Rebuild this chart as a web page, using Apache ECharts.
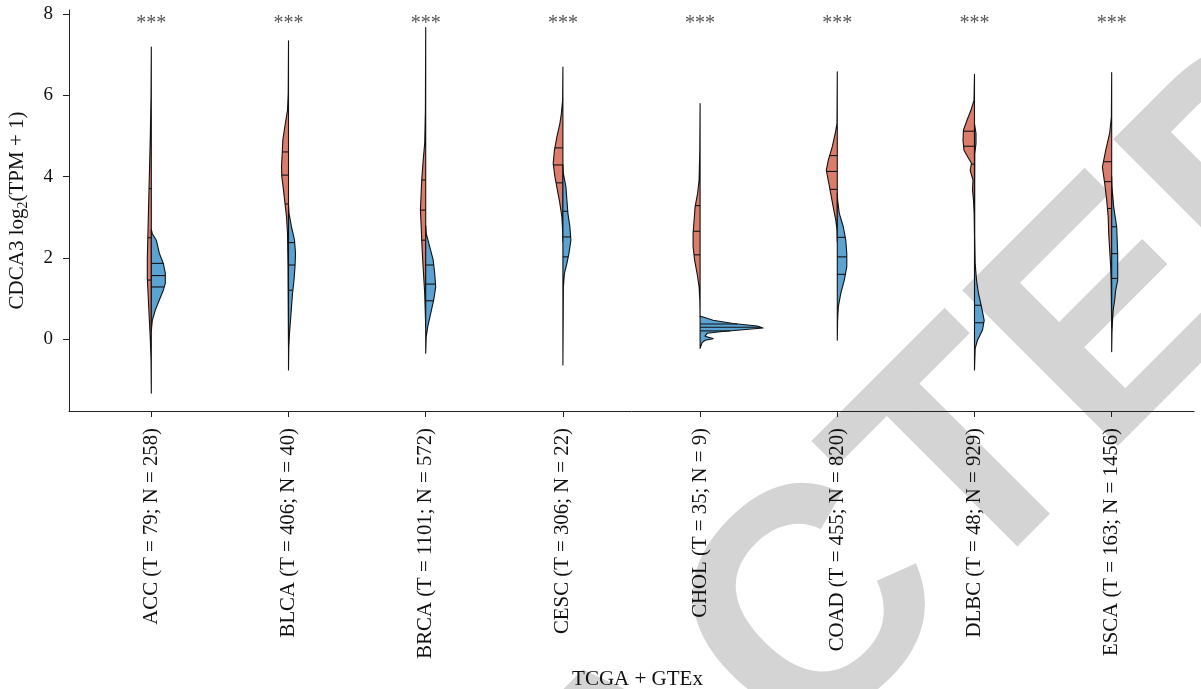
<!DOCTYPE html>
<html><head><meta charset="utf-8">
<script src="https://cdn.jsdelivr.net/npm/echarts@6/dist/echarts.min.js"></script>
<style>html,body{margin:0;padding:0;background:#fff}#c{width:1201px;height:689px}</style>
</head><body><div id="c"></div>
<script>
// ---------- data ----------
const categories = [
  'ACC (T = 79; N = 258)', 'BLCA (T = 406; N = 40)', 'BRCA (T = 1101; N = 572)',
  'CESC (T = 306; N = 22)', 'CHOL (T = 35; N = 9)', 'COAD (T = 455; N = 820)',
  'DLBC (T = 48; N = 929)', 'ESCA (T = 163; N = 1456)'
];
const significance = ['***', '***', '***', '***', '***', '***', '***', '***'];
const yTicks = [0, 2, 4, 6, 8];

// density profiles: [expression value, density (arbitrary units)]
const tumorACC  = [[-1.32,0],[-0.5,0.3],[0,1],[0.5,2],[1,3],[1.5,4],[2,4],[2.5,3.5],[3,3],[3.5,2.5],[4,2],[5,1],[6,0.3],[7.19,0]];
const normalACC = [[0.2,0],[0.47,1],[0.72,4],[0.97,8],[1.21,12],[1.38,14],[1.63,14],[1.87,12],[2.12,8],[2.44,5],[2.6,1],[2.7,0]];
const tumorBLCA  = [[-0.2,0],[0.97,0.3],[1.79,0.5],[2.6,1],[3.01,2],[3.34,3.5],[3.67,5],[4.0,6.7],[4.24,7],[4.57,6.3],[4.9,5.7],[5.23,3.7],[5.64,1],[6.05,0.3],[7.34,0]];
const normalBLCA = [[-0.75,0],[-0.18,0.3],[0.15,1],[0.47,2],[0.8,3],[1.13,4],[1.46,5.5],[1.79,6.5],[2.11,7],[2.44,6],[2.77,3],[3.1,0.5],[3.3,0]];
const tumorBRCA  = [[0.3,0],[0.56,0.3],[1.13,1],[1.54,2],[1.95,3],[2.44,4],[2.77,4.5],[3.18,5.3],[3.51,4.7],[3.92,4],[4.41,2.5],[4.82,1],[5.64,0.3],[7.67,0]];
const normalBRCA = [[-0.34,0],[0.06,0.5],[0.31,2],[0.64,5],[0.97,8],[1.29,10],[1.62,9],[1.95,7.5],[2.28,4],[2.61,0.5],[2.8,0]];
const tumorCESC  = [[2.4,0],[2.69,0.3],[3.01,1],[3.34,3],[3.67,5.5],[4.0,8],[4.33,9.7],[4.65,8.5],[4.98,6],[5.31,3],[5.56,1.5],[5.88,0.3],[6.70,0]];
const normalCESC = [[-0.63,0],[0.56,0.3],[1.29,0.5],[1.62,1.5],[1.87,4],[2.11,6],[2.44,8],[2.77,7],[3.1,5],[3.43,4],[3.75,3],[4.08,0.5],[4.3,0]];
const tumorCHOL  = [[0.56,0],[0.97,0.3],[1.29,1],[1.62,3],[1.95,5.5],[2.28,7],[2.61,7],[2.93,6],[3.26,5],[3.59,2.5],[3.92,1],[4.65,0.3],[5.80,0]];
const normalCHOL = [[-0.22,0],[-0.08,2],[-0.02,5],[0.02,13],[0.08,5],[0.15,7],[0.19,20],[0.23,40],[0.28,63],[0.33,57],[0.39,33],[0.47,13],[0.55,3],[0.57,0]];
const tumorCOAD  = [[2.4,0],[2.69,0.3],[2.93,1.5],[3.18,3.5],[3.51,6],[3.84,8.5],[4.16,11],[4.41,9],[4.74,5],[5.07,2],[5.31,0.3],[6.58,0]];
const normalCOAD = [[-0.02,0],[0.47,0.3],[0.8,1],[1.13,3.5],[1.46,7],[1.79,9.5],[2.11,9.5],[2.44,8.5],[2.77,6],[3.10,2],[3.43,0.3],[3.6,0]];
const tumorDLBC  = [[2.6,0],[3.10,0.3],[3.43,1],[3.67,2],[3.92,1.5],[4.16,4.3],[4.33,3],[4.5,7],[4.65,10.5],[4.90,11.5],[5.15,11],[5.39,7.5],[5.64,3.5],[5.88,0.5],[6.52,0]];
const normalDLBC = [[-0.75,0],[-0.22,0.7],[-0.02,3],[0.23,8],[0.47,9.7],[0.80,7],[1.13,4],[1.46,2],[1.87,0.7],[2.61,0.2],[3.84,0.2],[4.57,0.3],[4.82,1.5],[5.07,1.5],[5.3,0]];
const tumorESCA  = [[0.3,0],[0.72,0.2],[1.38,0.5],[1.79,1],[2.2,2],[2.61,3],[3.01,3.5],[3.43,5],[3.84,7],[4.24,9.3],[4.65,6],[5.07,2],[5.47,0.3],[6.56,0]];
const normalESCA = [[-0.30,0],[0.15,0.3],[0.39,0.7],[0.72,1.5],[0.97,3],[1.21,4],[1.46,6],[1.79,6],[2.11,6],[2.44,5.5],[2.77,5],[3.26,2],[3.75,0.3],[4.0,0]];

// quartiles [Q1, median, Q3]
const tumorQuartiles  = [[1.46,2.50,3.71],[3.33,4.04,4.61],[2.44,3.18,3.92],[3.85,4.29,4.71],[2.08,2.66,3.29],[3.69,4.13,4.52],[4.31,4.75,5.12],[3.22,3.88,4.37]];
const normalQuartiles = [[1.29,1.57,1.87],[1.21,1.83,2.38],[0.95,1.36,1.83],[2.03,2.52,3.15],[0.21,0.30,0.38],[1.60,2.03,2.51],[0.41,0.84,1.83],[1.50,2.11,2.77]];

const tumorDensity  = [tumorACC, tumorBLCA, tumorBRCA, tumorCESC, tumorCHOL, tumorCOAD, tumorDLBC, tumorESCA];
const normalDensity = [normalACC, normalBLCA, normalBRCA, normalCESC, normalCHOL, normalCOAD, normalDLBC, normalESCA];

// ---------- styling ----------
const DENS_TO_X = 1 / 137.2;
const STAR_Y = 7.75;
const RED = '#DC7C6B', BLUE = '#5AA3D2';
const SERIF = '"Liberation Serif", "Times New Roman", serif';

function densAt(prof, q) {
  for (let i = 0; i < prof.length - 1; i++) {
    const [v0, d0] = prof[i], [v1, d1] = prof[i + 1];
    if (q >= v0 && q <= v1) return d0 + (d1 - d0) * (q - v0) / (v1 - v0 || 1);
  }
  return 0;
}

function half(api, xi, prof, side, color, quart) {
  const pts = prof.map(([v, d]) => api.coord([xi + side * d * DENS_TO_X, v]));
  pts.push(api.coord([xi, prof[prof.length - 1][0]]));
  pts.push(api.coord([xi, prof[0][0]]));
  const out = [{
    type: 'polygon', shape: { points: pts },
    style: { fill: color, stroke: '#111', lineWidth: 1.1, lineJoin: 'round' }
  }];
  quart.forEach(q => {
    const d = densAt(prof, q);
    const a = api.coord([xi, q]), b = api.coord([xi + side * d * DENS_TO_X, q]);
    out.push({ type: 'line', shape: { x1: a[0], y1: a[1], x2: b[0], y2: b[1] },
      style: { stroke: '#111', lineWidth: 1.1 } });
  });
  return out;
}

const chart = echarts.init(document.getElementById('c'), null, { renderer: 'canvas' });
chart.setOption({
  animation: false,
  backgroundColor: '#fff',
  grid: { left: 69, right: 7, top: 10, bottom: 278, outerBoundsMode: 'none', containLabel: false },
  graphic: [{
    type: 'text', x: 657, y: 782, rotation: Math.PI / 4, z: -10, silent: true,
    style: { text: 'RETRACTED', fontSize: 320, fontWeight: 'bold', fontFamily: '"Liberation Sans", Arial, sans-serif',
      fill: '#d4d4d4', align: 'center', verticalAlign: 'middle' }
  }],
  xAxis: {
    type: 'value', min: 0.4, max: 8.6,
    name: 'TCGA + GTEx', nameLocation: 'middle', nameGap: 258,
    nameTextStyle: { fontFamily: SERIF, fontSize: 21, color: '#111', padding: [0, 0, 0, 12] },
    axisLine: { onZero: false, lineStyle: { color: '#222', width: 1 } },
    axisTick: { customValues: categories.map((c, i) => i + 1), length: 6, lineStyle: { color: '#222' } },
    axisLabel: { customValues: categories.map((c, i) => i + 1), rotate: 90, margin: 17,
      fontFamily: SERIF, fontSize: 20.8, color: '#111',
      formatter: v => categories[Math.round(v) - 1] },
    splitLine: { show: false }
  },
  yAxis: {
    type: 'value', min: -1.76, max: 8.1,
    name: '{a|CDCA3 log}{s|2}{a|(TPM + 1)}', nameLocation: 'middle', nameGap: 39, nameRotate: 90,
    nameTextStyle: { rich: { a: { fontFamily: SERIF, fontSize: 21, color: '#111' },
                             s: { fontFamily: SERIF, fontSize: 14, color: '#111', padding: [12, 0, 0, 0] } } },
    axisLine: { show: true, onZero: false, lineStyle: { color: '#222', width: 1 } },
    axisTick: { show: true, customValues: yTicks, length: 6, lineStyle: { color: '#222' } },
    axisLabel: { customValues: yTicks, margin: 16, fontFamily: SERIF, fontSize: 19, color: '#111' },
    splitLine: { show: false }
  },
  series: [{
    type: 'custom',
    data: categories.map((c, i) => [i + 1, 0]),
    encode: { x: 0, y: 1 },
    clip: false,
    renderItem: (params, api) => {
      const i = params.dataIndex, xi = i + 1;
      const sp = api.coord([xi, STAR_Y]);
      return { type: 'group', children: [
        ...half(api, xi, tumorDensity[i], -1, RED, tumorQuartiles[i]),
        ...half(api, xi, normalDensity[i], 1, BLUE, normalQuartiles[i]),
        { type: 'text', x: sp[0], y: sp[1],
          style: { text: significance[i], fontFamily: SERIF, fontSize: 20, fill: '#555', align: 'center', verticalAlign: 'middle' } }
      ] };
    }
  }]
});
</script></body></html>
